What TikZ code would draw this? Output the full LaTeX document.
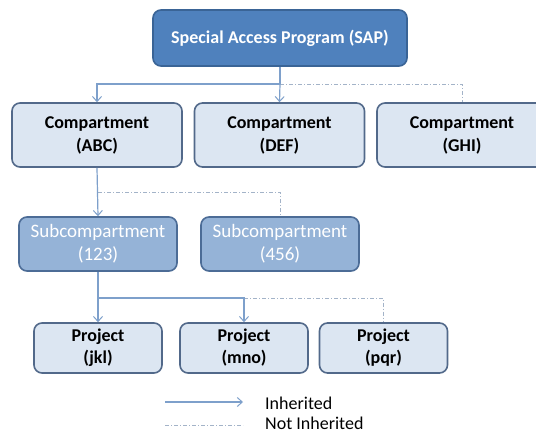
\documentclass[tikz,border=0pt]{standalone}
\usepackage{fontspec}
\setmainfont{Carlito}
\usetikzlibrary{arrows.meta}
\definecolor{sapfill}{HTML}{4F81BD}
\definecolor{sapedge}{HTML}{3A6496}
\definecolor{lightfill}{HTML}{DCE6F2}
\definecolor{lightedge}{HTML}{52698A}
\definecolor{midfill}{HTML}{95B3D7}
\definecolor{midedge}{HTML}{4C6C96}
\definecolor{linkblue}{HTML}{7EA0CB}
\definecolor{linkgray}{HTML}{A3B3C8}
\tikzset{
  x=1pt, y=-1pt,
  box/.style={draw, line width=1.6pt, rounded corners=8pt, inner sep=0pt,
    align=center, font=\fontsize{18}{22}\selectfont},
  topbox/.style={box, fill=sapfill, draw=sapedge, text=white, font=\fontsize{18}{22}\selectfont\bfseries},
  compbox/.style={box, fill=lightfill, draw=lightedge, font=\fontsize{18}{23}\selectfont\bfseries,
    minimum width=170pt, minimum height=64pt},
  subbox/.style={box, fill=midfill, draw=midedge, text=white, font=\fontsize{19}{23}\selectfont,
    minimum width=158pt, minimum height=54pt},
  projbox/.style={box, fill=lightfill, draw=lightedge, font=\fontsize{18}{22}\selectfont\bfseries,
    minimum width=128pt, minimum height=50pt},
  inh/.style={draw=linkblue, line width=1.2pt},
  inharrow/.style={inh, -{Straight Barb[length=5pt,width=9pt,line width=1pt]}},
  notinh/.style={draw=linkgray, line width=1pt,
    dash pattern=on 4pt off 2pt on 1pt off 2pt},
  legendtext/.style={anchor=base west, inner sep=0pt, font=\fontsize{18}{22}\selectfont},
}
\begin{document}
\begin{tikzpicture}
\useasboundingbox (0,0) rectangle (536,434);
\clip (0,0) rectangle (536,434);
\fill[white] (0,0) rectangle (536,434);

% top level
\node[topbox, minimum width=254pt, minimum height=56pt] (sap) at (280,38) {Special Access Program (SAP)};

% compartments
\node[compbox] (abc) at (97,135) {Compartment\\(ABC)};
\node[compbox] (def) at (279.5,135) {Compartment\\(DEF)};
\node[compbox] (ghi) at (462,135) {Compartment\\(GHI)};

% subcompartments
\node[subbox] (s123) at (98,244) {Subcompartment\\(123)};
\node[subbox] (s456) at (280,244) {Subcompartment\\(456)};

% projects
\node[projbox] (jkl) at (98,348) {Project\\(jkl)};
\node[projbox] (mno) at (244,348) {Project\\(mno)};
\node[projbox] (pqr) at (383.5,348) {Project\\(pqr)};

% junction points of the branch lines
\coordinate (j1) at (280,84);
\coordinate (j2) at (98,192);
\coordinate (j3) at (98,298);

% SAP -> compartments
\draw[notinh] (j1) -| (ghi.north);
\draw[inh] (sap.south) -- (j1);
\draw[inharrow] (j1) -| (abc.north);
\draw[inharrow] (j1) -- (def.north);

% compartment -> subcompartments
\draw[notinh] (j2) -| (s456.north);
\draw[inharrow] (abc.south) -- (s123.north);

% subcompartment -> projects
\draw[notinh] (mno.north |- j3) -| (pqr.north);
\draw[inharrow] (s123.south) -- (jkl.north);
\draw[inharrow] (j3) -| (mno.north);

% legend
\coordinate (la) at (165,402);
\coordinate (lb) at (243,402);
\coordinate (lc) at (165,425);
\coordinate (ld) at (243,425);
\draw[inharrow] (la) -- (lb);
\draw[notinh] (lc) -- (ld);
\node[legendtext] (t1) at (265,409) {Inherited};
\node[legendtext] (t2) at (265,429) {Not Inherited};
\end{tikzpicture}
\end{document}
